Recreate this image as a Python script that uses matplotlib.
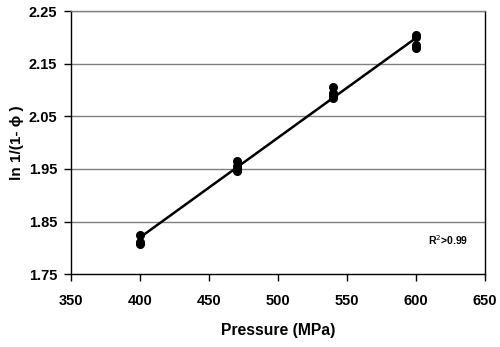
import matplotlib
matplotlib.use("Agg")
import matplotlib.pyplot as plt
import numpy as np

plt.rcParams['font.family'] = ['Liberation Sans', 'DejaVu Sans']

pressure = [400, 400, 400,
            470, 470, 470, 470,
            540, 540, 540, 540,
            600, 600, 600, 600]
ln_value = [1.825, 1.812, 1.808,
            1.965, 1.955, 1.950, 1.946,
            2.105, 2.095, 2.090, 2.085,
            2.205, 2.200, 2.185, 2.180]

x_ticks = [350, 400, 450, 500, 550, 600, 650]
y_ticks = [1.75, 1.85, 1.95, 2.05, 2.15, 2.25]

fig = plt.figure(figsize=(5.0, 3.47), dpi=100)
ax = fig.add_axes([0.142, 0.21, 0.828, 0.758])

for yt in y_ticks[1:]:
    ax.axhline(yt, color='#808080', lw=1.0, zorder=1)

coef = np.polyfit(pressure, ln_value, 1)
xl = np.array([min(pressure), max(pressure)])
ax.plot(xl, np.polyval(coef, xl), color='black', lw=1.8, zorder=2)
ax.plot(pressure, ln_value, 'o', color='black', ms=5.5, zorder=3)

ax.set_xlim(350, 650)
ax.set_ylim(1.75, 2.25)
ax.set_xticks(x_ticks)
ax.set_yticks(y_ticks)
ax.set_xticklabels([str(v) for v in x_ticks], fontsize=10.5, fontweight='bold')
ax.set_yticklabels([f"{v:.2f}" for v in y_ticks], fontsize=10.5, fontweight='bold')
ax.tick_params(direction='out', length=5, width=1, color='black')
ax.tick_params(axis='x', pad=9)
ax.tick_params(axis='y', pad=5)

ax.spines['top'].set_color('#808080')
ax.spines['right'].set_color('black')
for s in ['left', 'bottom']:
    ax.spines[s].set_color('black')
for s in ax.spines.values():
    s.set_linewidth(1.0)

ax.set_xlabel('Pressure (MPa)', fontsize=11.3, fontweight='bold', labelpad=11)
ax.set_ylabel('ln 1/(1- ϕ )', fontsize=11, fontweight='bold', labelpad=3)

ax.text(0.91, 0.13, 'R$^2$>0.99', transform=ax.transAxes, fontsize=7.5,
        fontweight='bold', ha='center', va='center')

fig.savefig('out.png', dpi=100)
